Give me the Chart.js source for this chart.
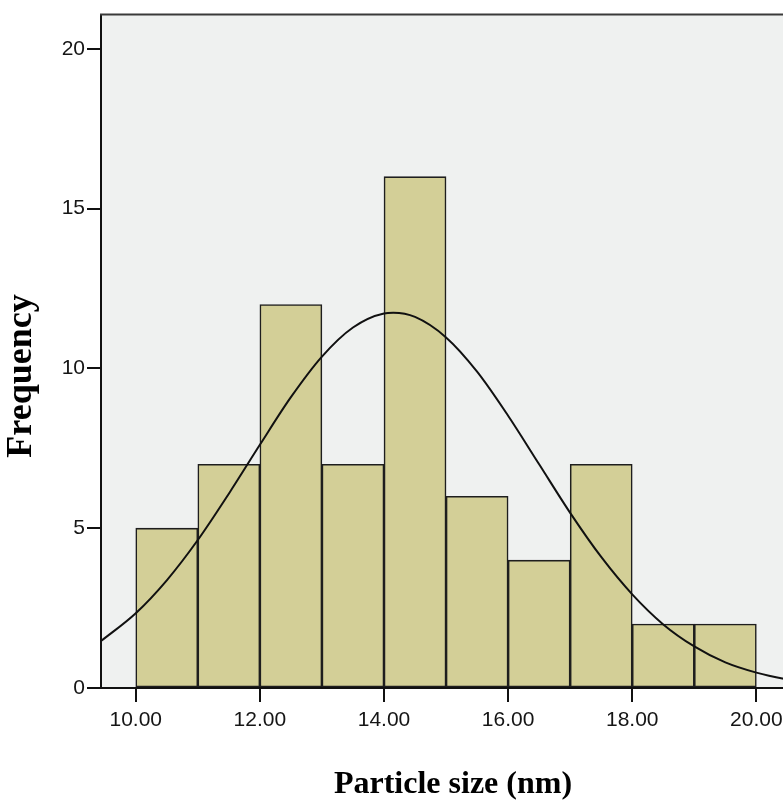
<!DOCTYPE html>
<html>
<head>
<meta charset="utf-8">
<script src="https://cdn.jsdelivr.net/npm/chart.js@4/dist/chart.umd.min.js"></script>
<style>
  html, body { margin: 0; padding: 0; background: #ffffff; overflow: hidden; width: 783px; height: 801px; }
  #c { display: block; }
</style>
</head>
<body>
<canvas id="c" width="806" height="801"></canvas>
<script>
// ---- Data ----
const binCenters = [10.5, 11.5, 12.5, 13.5, 14.5, 15.5, 16.5, 17.5, 18.5, 19.5];
const frequencies = [5, 7, 12, 7, 16, 6, 4, 7, 2, 2];
const curveX = [9.44, 10.0, 10.5, 11.0, 11.5, 12.0, 12.5, 13.0, 13.5, 14.0, 14.15, 14.5, 15.0, 15.5, 16.0, 16.5, 17.0, 17.5, 18.0, 18.5, 19.0, 19.5, 20.0, 20.44, 20.8];
const curveY = [1.47, 2.34, 3.37, 4.63, 6.08, 7.61, 9.10, 10.37, 11.28, 11.72, 11.74, 11.61, 10.97, 9.90, 8.52, 7.00, 5.48, 4.10, 2.93, 1.99, 1.30, 0.80, 0.48, 0.29, 0.19];
const xTicks = [10, 12, 14, 16, 18, 20];
const yTicks = [0, 5, 10, 15, 20];
const xTitle = 'Particle size (nm)';
const yTitle = 'Frequency';

const barData = binCenters.map((x, i) => ({ x: x, y: frequencies[i] }));
const lineData = curveX.map((x, i) => ({ x: x, y: curveY[i] }));

const plotDecor = {
  id: 'plotDecor',
  beforeDraw(chart) {
    const { ctx, chartArea: a } = chart;
    ctx.save();
    ctx.fillStyle = '#eff1f0';
    ctx.fillRect(a.left, a.top, a.right - a.left, a.bottom - a.top);
    ctx.restore();
  },
  afterDraw(chart) {
    const { ctx, chartArea: a } = chart;
    ctx.save();
    ctx.strokeStyle = '#3a3a3a';
    ctx.lineWidth = 2;
    ctx.beginPath();
    ctx.moveTo(a.left - 1, a.top);
    ctx.lineTo(a.right, a.top);
    ctx.stroke();

    // axis titles
    ctx.fillStyle = '#000000';
    ctx.textAlign = 'center';
    ctx.textBaseline = 'alphabetic';
    ctx.font = 'bold 32px "Times New Roman", "Liberation Serif", serif';
    ctx.fillText(xTitle, 453, 793);

    ctx.translate(31, 376);
    ctx.rotate(-Math.PI / 2);
    ctx.font = 'bold 36px "Times New Roman", "Liberation Serif", serif';
    ctx.fillText(yTitle, 0, 0);
    ctx.restore();
  }
};

new Chart(document.getElementById('c'), {
  type: 'bar',
  data: {
    datasets: [
      {
        type: 'line',
        data: lineData,
        borderColor: '#111111',
        borderWidth: 2,
        pointRadius: 0,
        fill: false,
        cubicInterpolationMode: 'monotone',
        order: 0
      },
      {
        type: 'bar',
        data: barData,
        backgroundColor: '#d3cf97',
        borderColor: '#1e1e1e',
        borderWidth: 1.6,
        borderSkipped: false,
        barPercentage: 1,
        categoryPercentage: 1,
        order: 1
      }
    ]
  },
  options: {
    responsive: false,
    animation: false,
    layout: { padding: { top: 13, left: 0, right: 0, bottom: 0 } },
    plugins: { legend: { display: false }, tooltip: { enabled: false } },
    scales: {
      x: {
        type: 'linear',
        min: 9.44,
        max: 20.8,
        offset: false,
        afterBuildTicks(scale) { scale.ticks = xTicks.map(v => ({ value: v })); },
        afterFit(scale) { scale.height = 113; },
        grid: {
          offset: false,
          drawOnChartArea: false,
          drawTicks: true,
          tickLength: 14,
          color: '#111111',
          lineWidth: 2
        },
        border: { display: true, color: '#111111', width: 2 },
        ticks: {
          color: '#151515',
          font: { family: 'Arial, "Liberation Sans", sans-serif', size: 21 },
          padding: 6,
          maxRotation: 0,
          autoSkip: false,
          callback: (v) => Number(v).toFixed(2)
        },
        title: { display: false }
      },
      y: {
        type: 'linear',
        min: 0,
        max: 21.07,
        afterBuildTicks(scale) { scale.ticks = yTicks.map(v => ({ value: v })); },
        afterFit(scale) { scale.width = 101; },
        grid: {
          drawOnChartArea: false,
          drawTicks: true,
          tickLength: 14,
          color: '#111111',
          lineWidth: 2
        },
        border: { display: true, color: '#111111', width: 2 },
        ticks: {
          color: '#151515',
          font: { family: 'Arial, "Liberation Sans", sans-serif', size: 21 },
          padding: 2,
          autoSkip: false
        },
        title: { display: false }
      }
    }
  },
  plugins: [plotDecor]
});
</script>
</body>
</html>
